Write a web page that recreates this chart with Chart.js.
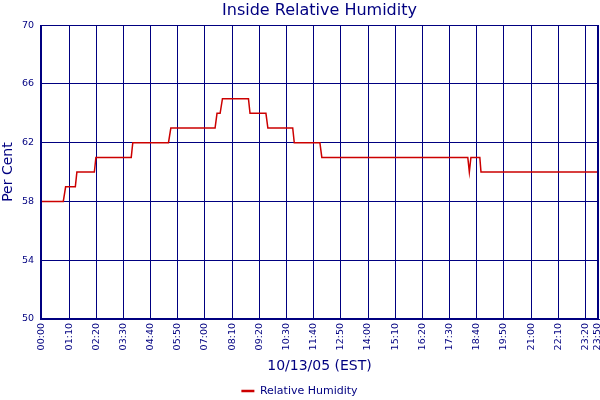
<!DOCTYPE html>
<html><head><meta charset="utf-8">
<script src="https://cdn.jsdelivr.net/npm/chart.js@4"></script>
<style>html,body{margin:0;padding:0;background:#fff}#wrap{width:600px;height:400px}</style>
</head><body><div id="wrap"><canvas id="c" width="600" height="400"></canvas></div>
<script>
const chartTitle = 'Inside Relative Humidity';
const xAxisTitle = '10/13/05 (EST)';
const yAxisTitle = 'Per Cent';
const seriesName = 'Relative Humidity';
const xTickLabels = ['00:00','01:10','02:20','03:30','04:40','05:50','07:00','08:10','09:20','10:30','11:40',
  '12:50','14:00','15:10','16:20','17:30','18:40','19:50','21:00','22:10','23:20','23:50'];
const yTickValues = [50, 54, 58, 62, 66, 70];
const sampleTimes = ['00:00','00:55','01:01','01:26','01:30','02:15','02:19','03:50','03:54','05:26','05:32',
  '07:26','07:31','07:39','07:45','08:52','08:56','09:37','09:42','10:46','10:50','11:56','12:01',
  '18:17','18:21','18:25','18:48','18:51','23:50'];
const humidity = [58,58,59,59,60,60,61,61,62,62,63,
  63,64,64,65,65,64,64,63,63,62,62,61,
  61,60,61,61,60,60];

const NAVY = '#000080';
const RED = '#cc0000';
const FONT = 'DejaVu Sans';
const toMin = s => parseInt(s.slice(0, 2), 10) * 60 + parseInt(s.slice(3), 10);
const pad2 = n => String(n).padStart(2, '0');

const borderPlugin = {
  id: 'areaBorder',
  beforeDatasetsDraw(chart) {
    const {ctx, chartArea: a} = chart;
    ctx.save();
    ctx.strokeStyle = NAVY;
    ctx.lineWidth = 1;
    const l = Math.round(a.left) + 0.5, r = Math.round(a.right) - 0.5;
    const t = Math.round(a.top) + 0.5, b = Math.round(a.bottom) - 0.5;
    ctx.strokeRect(l, t, r - l, b - t);
    ctx.restore();
  }
};

new Chart(document.getElementById('c'), {
  type: 'line',
  data: {
    datasets: [{
      label: seriesName,
      data: sampleTimes.map((t, i) => ({x: toMin(t), y: humidity[i]})),
      borderColor: RED,
      backgroundColor: RED,
      borderWidth: 1.5,
      pointRadius: 0,
      fill: false,
      tension: 0
    }]
  },
  options: {
    responsive: false,
    animation: false,
    devicePixelRatio: 1,
    layout: {padding: {left: 0, right: 1, top: 0, bottom: -6.5}},
    scales: {
      x: {
        type: 'linear',
        min: -5,
        max: 1435,
        afterBuildTicks: s => { s.ticks = xTickLabels.map(l => ({value: toMin(l)})); },
        afterFit: s => { s.height = 62.5; s.paddingLeft = 0; s.paddingRight = 0; },
        ticks: {
          autoSkip: false, minRotation: 90, maxRotation: 90, padding: 4, color: NAVY,
          font: {family: FONT, size: 9.5},
          callback: v => pad2(Math.floor(v / 60)) + ':' + pad2(v % 60)
        },
        grid: {color: NAVY, lineWidth: 1, drawTicks: false},
        border: {color: NAVY, width: 1},
        title: {display: true, text: xAxisTitle, color: NAVY, font: {family: FONT, size: 14}, padding: {top: 0, bottom: 7}}
      },
      y: {
        min: 50,
        max: 70,
        afterBuildTicks: s => { s.ticks = yTickValues.map(v => ({value: v})); },
        afterFit: s => { s.width = 40; s.paddingTop = 0; s.paddingBottom = 0; },
        ticks: {padding: 6, color: NAVY, font: {family: FONT, size: 9.5}},
        grid: {color: NAVY, lineWidth: 1, drawTicks: false},
        border: {color: NAVY, width: 1},
        title: {display: true, text: yAxisTitle, color: NAVY, font: {family: FONT, size: 14}, padding: {top: 0, bottom: 0}}
      }
    },
    plugins: {
      title: {
        display: true, text: chartTitle, color: NAVY, fullSize: false,
        font: {family: FONT, size: 16, weight: 'normal'}, padding: {top: 1, bottom: 5}
      },
      legend: {
        position: 'bottom',
        labels: {
          usePointStyle: true, pointStyle: 'line', pointStyleWidth: 13, padding: 4,
          color: NAVY, font: {family: FONT, size: 11},
          generateLabels: chart => Chart.defaults.plugins.legend.labels.generateLabels(chart)
            .map(it => Object.assign(it, {lineWidth: 2.5, strokeStyle: RED}))
        }
      },
      tooltip: {enabled: false}
    }
  },
  plugins: [borderPlugin]
});
</script>
</body></html>
